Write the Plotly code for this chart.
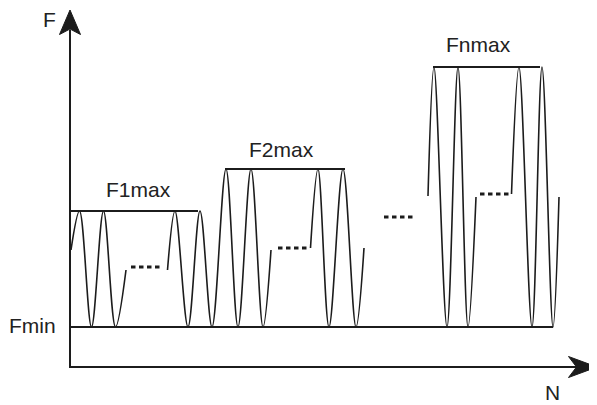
import plotly.graph_objects as go

# ---------------- data (schematic units: N horizontal, F vertical) ----------------
F_MIN = 4.0
F_AXIS_END = 35.7
N_AXIS_END = 52.7

# level lines of the maxima
max_labels = ["F1max", "F2max", "Fnmax"]
max_levels = [15.6, 19.8, 30.0]
max_line_start = [0.1, 15.5, 36.3]
max_line_end = [12.8, 27.5, 47.0]
label_n = [6.85, 21.15, 40.8]
label_f = [17.8, 21.8, 32.3]

fmin_line_end = 48.3

# wave segments: extreme points (start, peaks/troughs, end)
seg1a_n = [0.1, 0.95, 2.15, 3.35, 4.55, 5.6]
seg1a_f = [11.7, 15.6, 4.0, 15.6, 4.0, 9.7]

seg12_n = [9.75, 10.5, 11.8, 13.0, 14.2, 15.6, 16.8, 18.1, 19.3, 20.1]
seg12_f = [9.7, 15.6, 4.0, 15.6, 4.0, 19.8, 4.0, 19.8, 4.0, 11.7]

seg2b_n = [24.05, 24.8, 25.9, 27.3, 28.6, 29.4]
seg2b_f = [11.9, 19.8, 4.0, 19.8, 4.0, 11.9]

segna_n = [35.8, 36.4, 37.7, 38.8, 39.8, 40.6]
segna_f = [17.1, 30.0, 4.0, 30.0, 4.0, 17.0]

segnb_n = [44.15, 44.9, 46.2, 47.2, 48.3, 48.9]
segnb_f = [17.3, 30.0, 4.0, 30.0, 4.0, 17.0]

segments = [(seg1a_n, seg1a_f), (seg12_n, seg12_f), (seg2b_n, seg2b_f),
            (segna_n, segna_f), (segnb_n, segnb_f)]

# ellipsis marks "...."
dots_n = [6.1, 20.8, 31.4, 41.0]
dots_f = [10.0, 11.9, 15.0, 17.3]
DOTS_LEN = 2.85

# ---------------- figure ----------------
INK = "#1c1c1c"
fig = go.Figure()

# axes lines
fig.add_trace(go.Scatter(x=[0, 0, N_AXIS_END - 2.0], y=[F_AXIS_END - 2.0, 0, 0],
                         mode="lines", line=dict(color=INK, width=2)))
# arrowheads
ah_len, ah_half, ah_notch = 2.45, 1.05, 0.55
fig.add_trace(go.Scatter(
    x=[0, ah_half, 0, -ah_half, 0],
    y=[F_AXIS_END, F_AXIS_END - ah_len, F_AXIS_END - ah_len + ah_notch, F_AXIS_END - ah_len, F_AXIS_END],
    mode="lines", fill="toself", fillcolor=INK, line=dict(color=INK, width=1)))
ah_len2, ah_half2, ah_notch2 = 2.85, 1.05, 0.8
fig.add_trace(go.Scatter(
    x=[N_AXIS_END, N_AXIS_END - ah_len2, N_AXIS_END - ah_len2 + ah_notch2, N_AXIS_END - ah_len2, N_AXIS_END],
    y=[0, ah_half2, 0, -ah_half2, 0],
    mode="lines", fill="toself", fillcolor=INK, line=dict(color=INK, width=1)))

# Fmin line
fig.add_trace(go.Scatter(x=[0, fmin_line_end], y=[F_MIN, F_MIN], mode="lines",
                         line=dict(color=INK, width=1.8)))

# max level lines
for lvl, a, b in zip(max_levels, max_line_start, max_line_end):
    fig.add_trace(go.Scatter(x=[a, b], y=[lvl, lvl], mode="lines",
                             line=dict(color=INK, width=1.8)))

# waves
for sn, sf in segments:
    fig.add_trace(go.Scatter(x=sn, y=sf, mode="lines",
                             line=dict(color=INK, width=1.6, shape="spline", smoothing=1.0)))

# ellipsis
for dn, df in zip(dots_n, dots_f):
    fig.add_trace(go.Scatter(x=[dn, dn + DOTS_LEN], y=[df, df], mode="lines",
                             line=dict(color=INK, width=3, dash="4.5px,3.5px")))

FONT = dict(family="Liberation Sans, Arial, sans-serif", size=21, color="#222222")
annotations = [
    dict(x=-2.1, y=34.8, text="F"),
    dict(x=-3.8, y=4.2, text="Fmin"),
    dict(x=48.2, y=-2.5, text="N"),
]
for t, x, y in zip(max_labels, label_n, label_f):
    annotations.append(dict(x=x, y=y, text=t))
for a in annotations:
    a.update(showarrow=False, xanchor="center", yanchor="middle", font=FONT,
             xref="x", yref="y")

# the page body adds an 8px offset; ranges compensate for it
fig.update_layout(
    width=597, height=405, autosize=False,
    margin=dict(l=0, r=0, t=0, b=0),
    paper_bgcolor="white", plot_bgcolor="white",
    showlegend=False, hovermode=False,
    xaxis=dict(range=[-6.2, 53.5], visible=False, fixedrange=True),
    yaxis=dict(range=[-4.6, 35.9], visible=False, fixedrange=True),
    annotations=annotations,
)

fig.write_html("out.html", config={"displayModeBar": False})
